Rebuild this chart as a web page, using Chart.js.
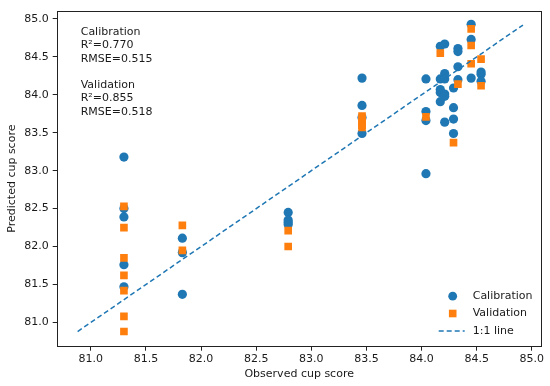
<!DOCTYPE html>
<html lang="en">
<head>
    <meta charset="UTF-8">
    <title>Observed vs predicted cup score</title>
    <script src="https://cdn.jsdelivr.net/npm/chart.js"></script>
    <style>
        body {
            margin: 0;
            background: #ffffff;
        }
        #wrap {
            width: 550px;
            height: 386px;
        }
    </style>
</head>
<body>
    <div id="wrap"><canvas id="chart" width="550" height="386"></canvas></div>

    <script>
        // calibration set (blue circles)
        const calX = [
            81.3, 81.3, 81.3, 81.3, 81.3,
            81.83, 81.83, 81.83,
            82.79, 82.79, 82.79, 82.79,
            83.46, 83.46, 83.46, 83.46,
            84.04, 84.04, 84.04, 84.04,
            84.17, 84.17, 84.17, 84.17, 84.17,
            84.21, 84.21, 84.21, 84.21, 84.21, 84.21,
            84.29, 84.29, 84.29, 84.29,
            84.33, 84.33, 84.33, 84.33,
            84.45, 84.45, 84.45,
            84.54, 84.54, 84.54
        ];
        const calY = [
            83.18, 82.50, 82.39, 81.76, 81.47,
            82.11, 81.92, 81.37,
            82.45, 82.35, 82.32, 82.29,
            84.22, 83.86, 83.70, 83.49,
            84.21, 83.78, 83.66, 82.96,
            84.64, 84.21, 84.07, 84.03, 83.91,
            84.67, 84.28, 84.21, 84.01, 83.98, 83.64,
            84.09, 83.83, 83.68, 83.49,
            84.61, 84.57, 84.37, 84.20,
            84.93, 84.73, 84.22,
            84.30, 84.27, 84.18
        ];

        // validation set (orange squares)
        const valX = [
            81.3, 81.3, 81.3, 81.3, 81.3, 81.3, 81.3,
            81.83, 81.83,
            82.79, 82.79,
            83.46, 83.46, 83.46, 83.46, 83.46,
            84.04,
            84.17,
            84.29,
            84.33,
            84.45, 84.45, 84.45,
            84.54, 84.54
        ];
        const valY = [
            82.53, 82.25, 81.85, 81.62, 81.42, 81.08, 80.88,
            82.28, 81.95,
            82.21, 82.00,
            83.72, 83.68, 83.64, 83.60, 83.57,
            83.71,
            84.55,
            83.37,
            84.14,
            84.87, 84.65, 84.41,
            84.47, 84.12
        ];

        // 1:1 reference line end points
        const lineEnds = [80.88, 84.92];

        const xTicks = [81.0, 81.5, 82.0, 82.5, 83.0, 83.5, 84.0, 84.5, 85.0];
        const yTicks = [81.0, 81.5, 82.0, 82.5, 83.0, 83.5, 84.0, 84.5, 85.0];

        const statsText = ['Calibration', 'R\u00b2=0.770', 'RMSE=0.515', '', 'Validation', 'R\u00b2=0.855', 'RMSE=0.518'];
        const legendLabels = ['Calibration', 'Validation', '1:1 line'];

        const BLUE = '#1f77b4';
        const ORANGE = '#ff7f0e';
        const TEXT = '#1a1a1a';
        const FONT = "'DejaVu Sans', sans-serif";
        const FSIZE = 11;

        const toPoints = (xs, ys) => xs.map((x, i) => ({ x: x, y: ys[i] }));

        // frame, stats text and legend, drawn the matplotlib way
        const decorations = {
            id: 'decorations',
            afterDraw(chart) {
                const ctx = chart.ctx;
                const a = chart.chartArea;
                ctx.save();

                ctx.strokeStyle = '#222';
                ctx.lineWidth = 1;
                ctx.strokeRect(Math.round(a.left) + 0.5, Math.round(a.top) + 0.5,
                    Math.round(a.right - a.left) - 1, Math.round(a.bottom - a.top) - 1);

                ctx.font = FSIZE + 'px ' + FONT;
                ctx.fillStyle = TEXT;
                ctx.textBaseline = 'middle';
                ctx.textAlign = 'left';
                statsText.forEach((t, i) => {
                    ctx.fillText(t, a.left + 24, a.top + 21.5 + i * 13.3);
                });

                // legend
                const lx = a.left + 396;
                const ly = [a.bottom - 50.5, a.bottom - 33.2, a.bottom - 15.7];
                ctx.fillStyle = BLUE;
                ctx.beginPath();
                ctx.arc(lx, ly[0], 4.4, 0, Math.PI * 2);
                ctx.fill();
                ctx.fillStyle = ORANGE;
                ctx.fillRect(lx - 3.8, ly[1] - 3.8, 7.6, 7.6);
                ctx.strokeStyle = BLUE;
                ctx.lineWidth = 1.5;
                ctx.setLineDash([5, 3]);
                ctx.beginPath();
                ctx.moveTo(lx - 14, ly[2]);
                ctx.lineTo(lx + 12, ly[2]);
                ctx.stroke();
                ctx.setLineDash([]);

                ctx.fillStyle = TEXT;
                legendLabels.forEach((t, i) => {
                    ctx.fillText(t, lx + 20, ly[i]);
                });
                ctx.restore();
            }
        };

        new Chart(document.getElementById('chart'), {
            type: 'scatter',
            data: {
                datasets: [
                    {
                        label: 'Calibration',
                        data: toPoints(calX, calY),
                        backgroundColor: BLUE,
                        borderColor: BLUE,
                        borderWidth: 0,
                        pointStyle: 'circle',
                        pointRadius: 4.6,
                        order: 2
                    },
                    {
                        label: 'Validation',
                        data: toPoints(valX, valY),
                        backgroundColor: ORANGE,
                        borderColor: ORANGE,
                        borderWidth: 0,
                        pointStyle: 'rect',
                        pointRadius: 5.4,
                        order: 1
                    },
                    {
                        label: '1:1 line',
                        data: toPoints(lineEnds, lineEnds),
                        showLine: true,
                        borderColor: BLUE,
                        borderWidth: 1.5,
                        borderDash: [5, 3],
                        pointRadius: 0,
                        fill: false,
                        order: 0
                    }
                ]
            },
            options: {
                responsive: false,
                animation: false,
                events: [],
                layout: {
                    padding: { top: 4.7, right: 8.3, left: 0, bottom: 0 }
                },
                plugins: {
                    legend: { display: false },
                    tooltip: { enabled: false }
                },
                scales: {
                    x: {
                        type: 'linear',
                        min: 80.69,
                        max: 85.09,
                        afterBuildTicks: s => { s.ticks = xTicks.map(v => ({ value: v })); },
                        afterFit: s => { s.height = 39.3; },
                        grid: { drawOnChartArea: false, drawTicks: true, tickLength: 4, color: '#222' },
                        border: { display: false },
                        ticks: {
                            color: TEXT,
                            padding: 2,
                            maxRotation: 0,
                            font: { family: FONT, size: FSIZE },
                            callback: v => v.toFixed(1)
                        },
                        title: {
                            display: true,
                            text: 'Observed cup score',
                            color: TEXT,
                            font: { family: FONT, size: FSIZE },
                            padding: { top: 0, bottom: 5 }
                        }
                    },
                    y: {
                        type: 'linear',
                        min: 80.68,
                        max: 85.11,
                        afterBuildTicks: s => { s.ticks = yTicks.map(v => ({ value: v })); },
                        afterFit: s => { s.width = 56.7; },
                        grid: { drawOnChartArea: false, drawTicks: true, tickLength: 4, color: '#222' },
                        border: { display: false },
                        ticks: {
                            color: TEXT,
                            padding: 4,
                            font: { family: FONT, size: FSIZE },
                            callback: v => v.toFixed(1)
                        },
                        title: {
                            display: true,
                            text: 'Predicted cup score',
                            color: TEXT,
                            font: { family: FONT, size: FSIZE },
                            padding: { top: 6, bottom: 0 }
                        }
                    }
                }
            },
            plugins: [decorations]
        });
    </script>
</body>
</html>
